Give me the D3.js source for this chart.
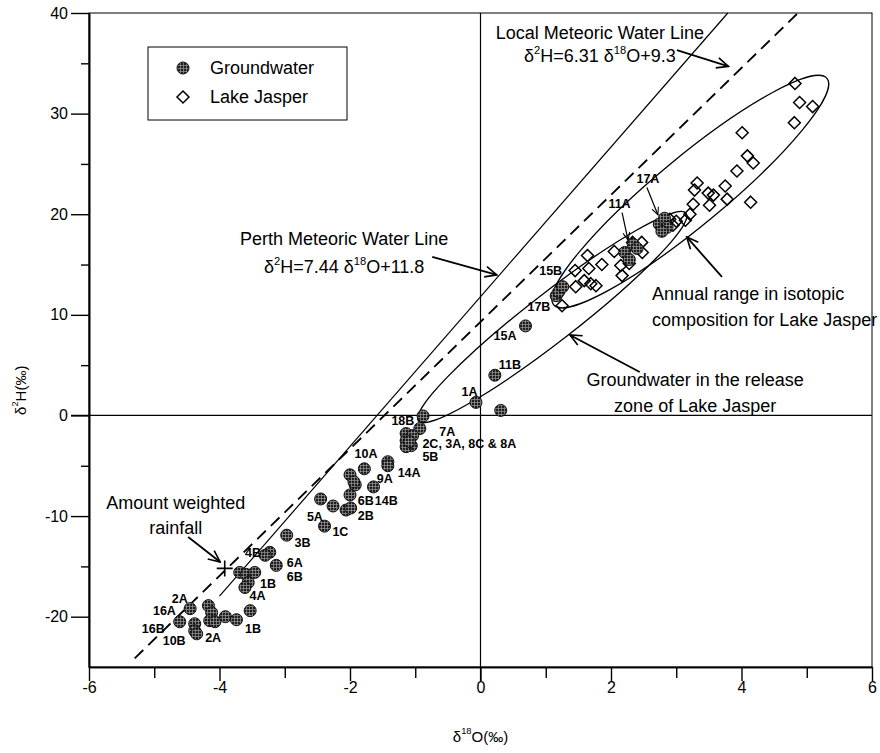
<!DOCTYPE html>
<html>
<head>
<meta charset="utf-8">
<script src="https://cdn.jsdelivr.net/npm/d3@7/dist/d3.min.js"></script>
<style>
  body { margin: 0; background: #fff; }
</style>
</head>
<body>
<div id="vis"></div>
<script>
// ---- data (δ18O, δ2H in ‰) ----
const groundwater = [
  [-0.88, -0.05], [-0.93, -1.3],
  [-1.14, -1.8], [-1.14, -2.5], [-1.04, -2.0], [-1.06, -3.0], [-1.14, -3.1], [-1.09, -2.6],
  [-1.42, -4.6], [-1.42, -5.0], [-1.78, -5.3], [-1.64, -7.1],
  [-2.0, -5.9], [-1.92, -6.9], [-2.0, -7.9], [-1.94, -6.6],
  [-2.06, -9.4], [-1.99, -9.2], [-2.45, -8.3], [-2.26, -9.0], [-2.39, -11.0], [-2.97, -11.9],
  [-3.23, -13.6], [-3.30, -13.9], [-3.13, -14.9],
  [-3.69, -15.6], [-3.59, -15.8], [-3.46, -15.6], [-3.56, -16.6], [-3.61, -17.1],
  [-3.53, -19.4],
  [-4.17, -18.9], [-4.12, -19.6], [-4.15, -20.4], [-4.07, -20.5], [-3.91, -20.0], [-3.74, -20.3],
  [-4.45, -19.2], [-4.61, -20.5], [-4.38, -20.7], [-4.38, -21.4], [-4.35, -21.7],
  [-0.07, 1.3], [0.31, 0.5], [0.22, 4.0], [0.69, 8.9],
  [1.16, 11.9], [1.20, 12.3], [1.26, 12.8],
  [2.21, 16.2], [2.34, 17.0], [2.28, 15.5], [2.40, 16.6],
  [2.74, 19.0], [2.82, 19.6], [2.86, 18.7], [2.78, 18.3]
];

const lake = [
  [4.82, 33.0], [4.89, 31.1], [5.09, 30.7], [4.81, 29.1], [4.01, 28.1],
  [4.09, 25.8], [4.18, 25.1], [3.93, 24.3], [4.14, 21.2], [3.75, 22.8], [3.78, 21.5],
  [3.32, 23.1], [3.28, 22.4], [3.49, 22.1], [3.57, 21.9], [3.51, 20.9], [3.26, 21.0],
  [3.21, 20.0], [3.14, 19.4], [2.90, 19.5], [3.00, 19.3], [2.95, 18.9],
  [1.64, 15.9], [1.45, 14.4], [1.66, 14.6], [1.86, 15.0], [2.05, 16.3],
  [1.46, 12.8], [1.59, 13.4], [1.69, 13.1], [1.77, 12.9],
  [2.15, 14.9], [2.17, 13.9], [2.33, 17.2], [2.47, 17.2], [2.48, 16.2], [2.28, 15.1],
  [1.25, 10.9]
];

const pointLabels = [
  { text: '18B', x: -1.19, y: -0.94, anchor: 'middle' },
  { text: '7A', x: -0.51, y: -2.0, anchor: 'middle' },
  { text: '2C, 3A, 8C & 8A', x: -0.89, y: -3.25, anchor: 'start' },
  { text: '5B', x: -0.89, y: -4.5, anchor: 'start' },
  { text: '14A', x: -1.27, y: -6.1, anchor: 'start' },
  { text: '9A', x: -1.59, y: -6.7, anchor: 'start' },
  { text: '10A', x: -1.93, y: -4.2, anchor: 'start' },
  { text: '6B', x: -1.88, y: -8.9, anchor: 'start' },
  { text: '14B', x: -1.62, y: -8.9, anchor: 'start' },
  { text: '2B', x: -1.88, y: -10.4, anchor: 'start' },
  { text: '5A', x: -2.66, y: -10.5, anchor: 'start' },
  { text: '1C', x: -2.27, y: -12.0, anchor: 'start' },
  { text: '3B', x: -2.85, y: -13.1, anchor: 'start' },
  { text: '4B', x: -3.61, y: -14.05, anchor: 'start' },
  { text: '6A', x: -2.97, y: -15.1, anchor: 'start' },
  { text: '6B', x: -2.97, y: -16.5, anchor: 'start' },
  { text: '1B', x: -3.38, y: -17.1, anchor: 'start' },
  { text: '4A', x: -3.54, y: -18.3, anchor: 'start' },
  { text: '2A', x: -4.73, y: -18.6, anchor: 'start' },
  { text: '16A', x: -5.02, y: -19.8, anchor: 'start' },
  { text: '16B', x: -5.19, y: -21.6, anchor: 'start' },
  { text: '10B', x: -4.87, y: -22.8, anchor: 'start' },
  { text: '2A', x: -4.22, y: -22.5, anchor: 'start' },
  { text: '1B', x: -3.61, y: -21.6, anchor: 'start' },
  { text: '1A', x: -0.29, y: 1.94, anchor: 'start' },
  { text: '11B', x: 0.28, y: 4.6, anchor: 'start' },
  { text: '15A', x: 0.20, y: 7.5, anchor: 'start' },
  { text: '17B', x: 0.72, y: 10.4, anchor: 'start' },
  { text: '15B', x: 0.90, y: 14.0, anchor: 'start' },
  { text: '11A', x: 1.96, y: 20.6, anchor: 'start' },
  { text: '17A', x: 2.39, y: 23.1, anchor: 'start' }
];

// label pointers [x1, y1, x2, y2]
const pointers = [
  [2.17, 20.17, 2.26, 17.44],
  [2.55, 22.65, 2.72, 19.93]
];

const rainfall = [[-3.92, -15.2]];

// δ2H = slope * δ18O + intercept, drawn from "from" up to the top of the plot
const waterLines = [
  { name: 'Perth MWL', slope: 7.44, intercept: 11.8, from: -4.0, dashed: false },
  { name: 'Local MWL', slope: 6.31, intercept: 9.3, from: -5.3, dashed: true }
];

// ellipses given by their two tips (data units) and half width (px)
const ellipses = [
  { name: 'groundwater release zone', tips: [[-0.95, -0.55], [3.15, 20.1]], half: 24 },
  { name: 'lake annual range', tips: [[1.12, 11.0], [5.31, 33.5]], half: 34 }
];

const annotations = [
  { lines: [[['Local Meteoric Water Line']], [['δ'], ['2', 1], ['H=6.31 δ'], ['18', 1], ['O+9.3']]],
    x: 1.83, y: [37.4, 35.1], anchor: 'middle', arrow: [3.01, 36.3, 3.80, 34.7] },
  { lines: [[['Perth Meteoric Water Line']], [['δ'], ['2', 1], ['H=7.44 δ'], ['18', 1], ['O+11.8']]],
    x: -2.09, y: [16.95, 14.16], anchor: 'middle', arrow: [-0.74, 15.76, 0.25, 13.97] },
  { lines: [[['Annual range in isotopic']], [['composition for Lake Jasper']]],
    x: 2.63, y: [11.48, 8.9], anchor: 'start', arrow: [3.70, 13.77, 3.16, 17.74] },
  { lines: [[['Groundwater in the release']], [['zone of Lake Jasper']]],
    x: 3.29, y: [2.93, 0.35], anchor: 'middle', arrow: [2.44, 4.32, 1.37, 8.0] },
  { lines: [[['Amount weighted']], [['rainfall']]],
    x: -4.67, y: [-9.29, -11.78], anchor: 'middle', arrow: [-4.48, -12.08, -3.99, -14.56] }
];

const xTicks = [-6, -4, -2, 0, 2, 4, 6];
const xMinor = [-5, -3, -1, 1, 3, 5];
const yTicks = [-20, -10, 0, 10, 20, 30, 40];
const yMinor = [-15, -5, 5, 15, 25, 35];
const legendItems = ['Groundwater', 'Lake Jasper'];

// ---- chart ----
const width = 880, height = 753;
const font = 'Liberation Sans, Arial, Helvetica, sans-serif';

const x = d3.scaleLinear().domain([-6, 6]).range([89, 872]);
const y = d3.scaleLinear().domain([-25, 40]).range([667, 13]);

const svg = d3.select('#vis').append('svg')
  .attr('width', width)
  .attr('height', height)
  .style('font-family', font);

const defs = svg.append('defs');
const hatch = defs.append('pattern')
  .attr('id', 'hatch')
  .attr('width', 3).attr('height', 3)
  .attr('patternUnits', 'userSpaceOnUse');
hatch.append('rect').attr('width', 3).attr('height', 3).attr('fill', '#1e1e1e');
hatch.append('path').attr('d', 'M0,0.5H3M0.5,0V3').attr('stroke', '#9a9a9a').attr('stroke-width', 0.7);

function addArrow(id, size) {
  defs.append('marker')
    .attr('id', id)
    .attr('viewBox', '0 0 12 12')
    .attr('refX', 11).attr('refY', 6)
    .attr('markerWidth', size).attr('markerHeight', size)
    .attr('markerUnits', 'userSpaceOnUse')
    .attr('orient', 'auto')
    .append('path')
    .attr('d', 'M1,1.5 L11,6 L1,10.5')
    .attr('fill', 'none')
    .attr('stroke', '#000')
    .attr('stroke-width', 1.4);
}
addArrow('arrow', 14);
addArrow('arrowSmall', 9);

// frame
svg.append('rect')
  .attr('x', x(-6)).attr('y', y(40))
  .attr('width', x(6) - x(-6)).attr('height', y(-25) - y(40))
  .attr('fill', 'none').attr('stroke', '#000').attr('stroke-width', 1);

// axes (plain hyphen for negatives, as in the original)
const plain = d => String(d);
function styleAxis(g) {
  g.select('.domain').attr('stroke-width', 1.6);
  g.selectAll('.tick line').attr('stroke-width', 1.4);
  g.selectAll('.tick text').attr('font-family', font).attr('font-size', 16).attr('fill', '#000');
}

svg.append('g')
  .attr('transform', `translate(${x(-6)},0)`)
  .call(d3.axisLeft(y).tickValues(yTicks).tickSize(18).tickSizeOuter(0).tickFormat(plain))
  .call(styleAxis);
svg.append('g')
  .attr('transform', `translate(${x(-6)},0)`)
  .call(d3.axisLeft(y).tickValues(yMinor).tickSize(8).tickSizeOuter(0).tickFormat(''))
  .call(styleAxis);
svg.append('g')
  .attr('transform', `translate(0,${y(-25)})`)
  .call(d3.axisBottom(x).tickValues(xTicks).tickSize(14).tickPadding(1).tickSizeOuter(0).tickFormat(plain))
  .call(styleAxis);
svg.append('g')
  .attr('transform', `translate(0,${y(-25)})`)
  .call(d3.axisBottom(x).tickValues(xMinor).tickSize(11).tickSizeOuter(0).tickFormat(''))
  .call(styleAxis);

// zero lines
svg.append('line')
  .attr('x1', x(-6) - 18).attr('x2', x(6))
  .attr('y1', y(0)).attr('y2', y(0))
  .attr('stroke', '#000').attr('stroke-width', 1.2);
svg.append('line')
  .attr('x1', x(0)).attr('x2', x(0))
  .attr('y1', y(40)).attr('y2', y(-25) + 14)
  .attr('stroke', '#000').attr('stroke-width', 1.2);

// meteoric water lines
svg.selectAll('.mwl')
  .data(waterLines)
  .join('line')
  .attr('class', 'mwl')
  .attr('x1', d => x(d.from))
  .attr('y1', d => y(d.slope * d.from + d.intercept))
  .attr('x2', d => x((40 - d.intercept) / d.slope))
  .attr('y2', y(40))
  .attr('stroke', '#000')
  .attr('stroke-width', d => d.dashed ? 1.8 : 1.2)
  .attr('stroke-dasharray', d => d.dashed ? '12,7' : null);

// ellipses
svg.selectAll('.zone')
  .data(ellipses)
  .join('ellipse')
  .attr('class', 'zone')
  .each(function (d) {
    const [p, q] = d.tips.map(t => [x(t[0]), y(t[1])]);
    const cx = (p[0] + q[0]) / 2, cy = (p[1] + q[1]) / 2;
    const rx = Math.hypot(q[0] - p[0], q[1] - p[1]) / 2;
    const angle = Math.atan2(q[1] - p[1], q[0] - p[0]) * 180 / Math.PI;
    d3.select(this)
      .attr('cx', cx).attr('cy', cy)
      .attr('rx', rx).attr('ry', d.half)
      .attr('transform', `rotate(${angle},${cx},${cy})`);
  })
  .attr('fill', 'none')
  .attr('stroke', '#000')
  .attr('stroke-width', 1.3);

// lake points (open diamonds)
const diamond = 'M0,-6L6,0L0,6L-6,0Z';
svg.selectAll('.lake')
  .data(lake)
  .join('path')
  .attr('class', 'lake')
  .attr('d', diamond)
  .attr('transform', d => `translate(${x(d[0])},${y(d[1])})`)
  .attr('fill', 'none')
  .attr('stroke', '#000')
  .attr('stroke-width', 1.5);

// groundwater points
svg.selectAll('.gw')
  .data(groundwater)
  .join('circle')
  .attr('class', 'gw')
  .attr('cx', d => x(d[0]))
  .attr('cy', d => y(d[1]))
  .attr('r', 6)
  .attr('fill', 'url(#hatch)')
  .attr('stroke', '#111')
  .attr('stroke-width', 1);

// amount weighted rainfall
svg.selectAll('.rain')
  .data(rainfall)
  .join('path')
  .attr('class', 'rain')
  .attr('d', 'M-8,0H8M0,-8V8')
  .attr('transform', d => `translate(${x(d[0])},${y(d[1])})`)
  .attr('stroke', '#000')
  .attr('stroke-width', 1.6);

// point labels
svg.selectAll('.plabel')
  .data(pointLabels)
  .join('text')
  .attr('class', 'plabel')
  .attr('x', d => x(d.x))
  .attr('y', d => y(d.y))
  .attr('text-anchor', d => d.anchor)
  .attr('font-size', 12.5)
  .attr('font-weight', 'bold')
  .text(d => d.text);

svg.selectAll('.pointer')
  .data(pointers)
  .join('line')
  .attr('class', 'pointer')
  .attr('x1', d => x(d[0])).attr('y1', d => y(d[1]))
  .attr('x2', d => x(d[2])).attr('y2', d => y(d[3]))
  .attr('stroke', '#000').attr('stroke-width', 1.2)
  .attr('marker-end', 'url(#arrowSmall)');

// annotations
function richText(sel, segs, size) {
  let raised = false;
  segs.forEach(([t, sup]) => {
    const ts = sel.append('tspan').text(t);
    if (sup && !raised) { ts.attr('dy', -8).attr('font-size', size * 0.62); raised = true; }
    else if (!sup && raised) { ts.attr('dy', 8); raised = false; }
    else if (sup) ts.attr('font-size', size * 0.62);
  });
}

const notes = svg.selectAll('.note')
  .data(annotations)
  .join('g')
  .attr('class', 'note');

notes.each(function (d) {
  const g = d3.select(this);
  d.lines.forEach((segs, i) => {
    const t = g.append('text')
      .attr('x', x(d.x))
      .attr('y', y(d.y[i]))
      .attr('text-anchor', d.anchor)
      .attr('font-size', 18);
    richText(t, segs, 18);
  });
  g.append('line')
    .attr('x1', x(d.arrow[0])).attr('y1', y(d.arrow[1]))
    .attr('x2', x(d.arrow[2])).attr('y2', y(d.arrow[3]))
    .attr('stroke', '#000').attr('stroke-width', 1.8)
    .attr('marker-end', 'url(#arrow)');
});

// legend
const legend = svg.append('g').attr('transform', 'translate(148,47)');
legend.append('rect')
  .attr('width', 199).attr('height', 73)
  .attr('fill', '#fff').attr('stroke', '#000').attr('stroke-width', 1);
const entries = legend.selectAll('g')
  .data(legendItems)
  .join('g')
  .attr('transform', (d, i) => `translate(35,${21 + i * 29})`);
entries.filter((d, i) => i === 0).append('circle')
  .attr('r', 6).attr('fill', 'url(#hatch)').attr('stroke', '#111');
entries.filter((d, i) => i === 1).append('path')
  .attr('d', diamond).attr('fill', 'none').attr('stroke', '#000').attr('stroke-width', 1.5);
entries.append('text')
  .attr('x', 27).attr('y', 6)
  .attr('font-size', 18)
  .text(d => d);

// axis titles
const xt = svg.append('text')
  .attr('x', x(0)).attr('y', 742)
  .attr('text-anchor', 'middle')
  .attr('font-size', 15);
richText(xt, [['δ'], ['18', 1], ['O(‰)']], 15);

const yt = svg.append('text')
  .attr('transform', `translate(26,${y(2.5)}) rotate(-90)`)
  .attr('text-anchor', 'middle')
  .attr('font-size', 15);
richText(yt, [['δ'], ['2', 1], ['H(‰)']], 15);
</script>
</body>
</html>
